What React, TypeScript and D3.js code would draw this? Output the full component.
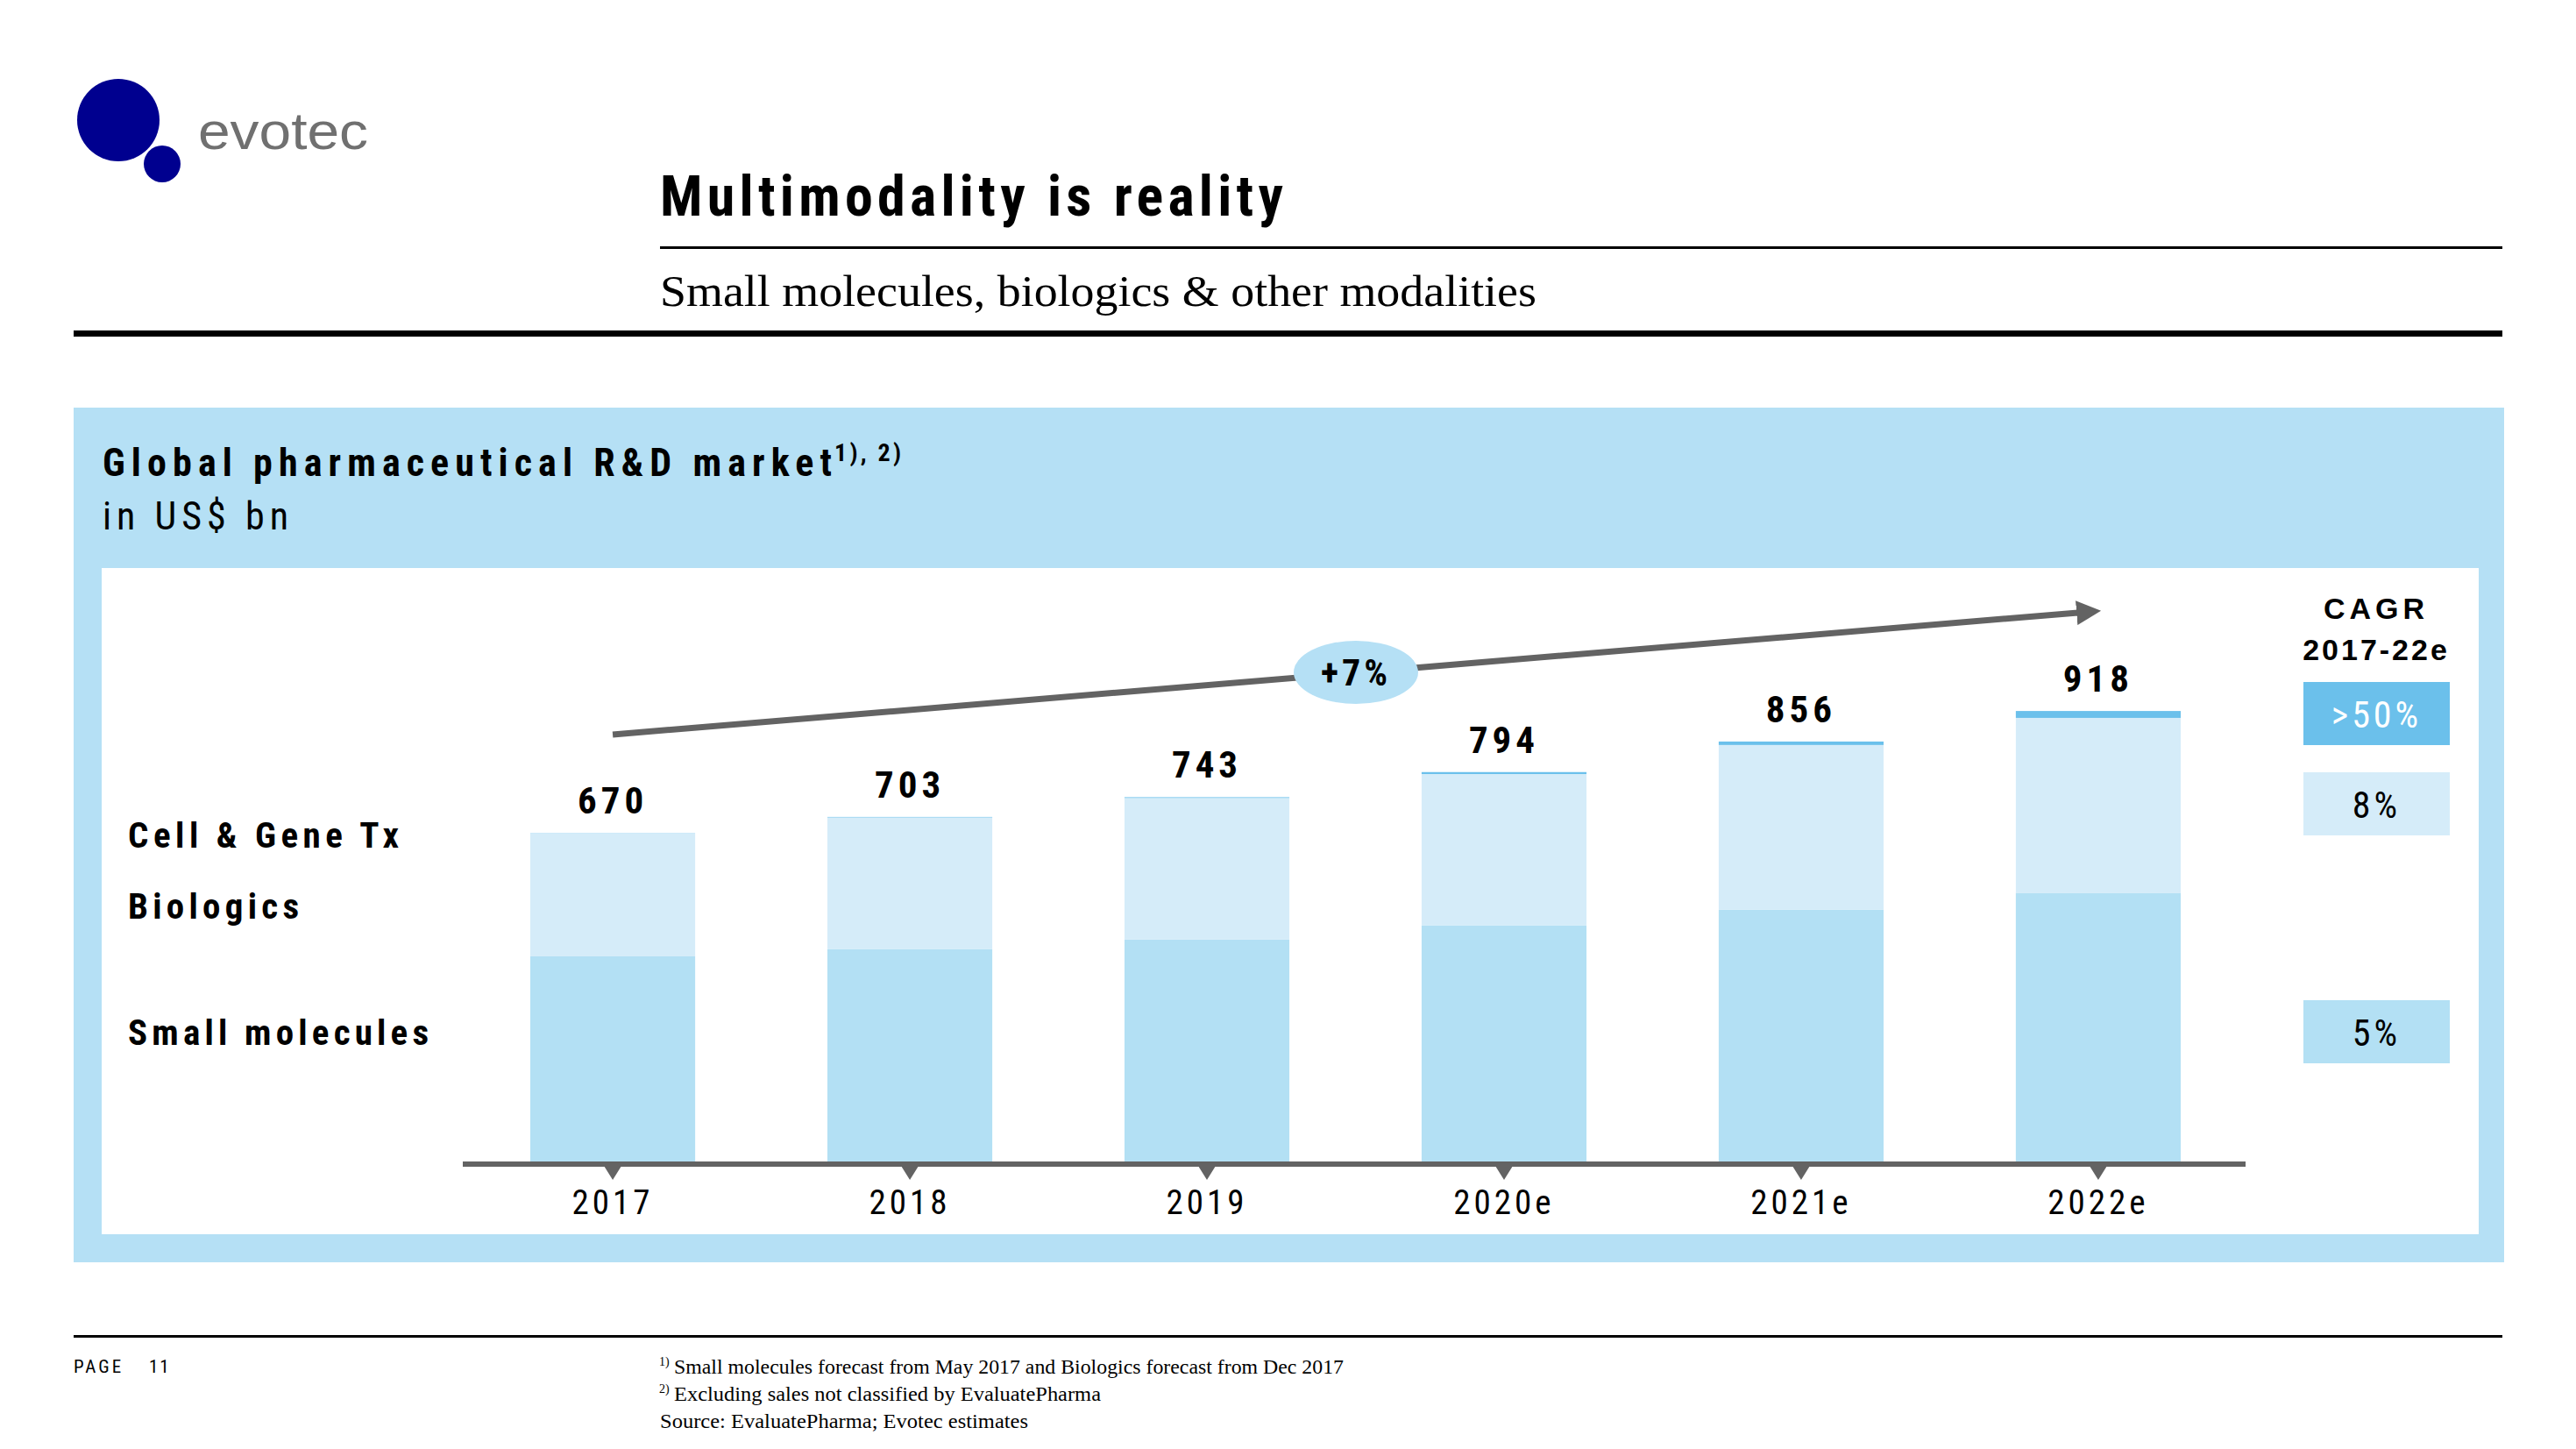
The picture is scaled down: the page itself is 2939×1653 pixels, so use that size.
import React from 'react';
import * as d3 from 'd3';

const years = ['2017', '2018', '2019', '2020e', '2021e', '2022e'];
const smallMolecules = [420, 435, 454, 483, 515, 549];
const biologics = [249.5, 267, 287.5, 307, 334, 355];
const cellGene = [0.5, 1, 1.5, 4, 7, 14];
const totals = [670, 703, 743, 794, 856, 918];
const segmentNames = ['Cell & Gene Tx', 'Biologics', 'Small molecules'];
const cagrValues = ['>50%', '8%', '5%'];
const overallCagr = '+7%';
const footnotes = [
  'Small molecules forecast from May 2017 and Biologics forecast from Dec 2017',
  'Excluding sales not classified by EvaluatePharma',
  'Source: EvaluatePharma; Evotec estimates',
];

const W = 2939;
const H = 1653;
const COND = "'Liberation Sans Narrow', 'Arial Narrow', 'Roboto Condensed', 'DejaVu Sans Condensed', 'Liberation Sans', sans-serif";
const SANS = "'Liberation Sans', Arial, sans-serif";
const SERIF = "'Liberation Serif', 'DejaVu Serif', serif";

const C_SM = '#b3e0f4';
const C_BIO = '#d5ecf9';
const C_CG = '#6bc0eb';
const C_PANEL = '#b5e0f5';
const C_GREY = '#636363';

export default function App() {
  const table = years.map((y, i) => ({
    year: y,
    sm: smallMolecules[i],
    bio: biologics[i],
    cg: cellGene[i],
  }));
  const keys = ['sm', 'bio', 'cg'];
  const colors: Record<string, string> = { sm: C_SM, bio: C_BIO, cg: C_CG };
  const stack = d3.stack<any>().keys(keys)(table);

  const x = d3.scaleBand<string>().domain(years).range([605, 2488]).paddingInner(0.445).paddingOuter(0);
  const y = d3.scaleLinear().domain([0, 1000]).range([1327, 765]);
  const bw = x.bandwidth();
  const cx = (yr: string) => (x(yr) as number) + bw / 2;

  const axisY = 1328;
  const arrowStart: [number, number] = [cx(years[0]), 838];
  const arrowEnd: [number, number] = [cx(years[years.length - 1]), 697];

  const boxX = 2628;
  const boxW = 167;
  const boxes = [
    { y: 778, fill: C_CG, color: '#ffffff', text: cagrValues[0] },
    { y: 881, fill: C_BIO, color: '#000000', text: cagrValues[1] },
    { y: 1141, fill: C_SM, color: '#000000', text: cagrValues[2] },
  ];
  const boxH = 72;

  const segLabelY = [967, 1048, 1192];
  const segLabelW = [309, 195, 343];
  const footW = [764, 487];

  return (
    <svg width={W} height={H} style={{ position: 'absolute', left: 0, top: 0, background: '#fff' }}>
      <defs>
        <marker id="arr" viewBox="0 0 10 10" refX="6" refY="5" markerWidth="4" markerHeight="4" orient="auto" markerUnits="strokeWidth">
          <path d="M0,0 L10,5 L0,10 z" fill={C_GREY} />
        </marker>
      </defs>
      {/* logo */}
      <circle cx={135} cy={137} r={47} fill="#00008f" />
      <circle cx={185} cy={187} r={21} fill="#00008f" />
      <text x={226} y={170} fontFamily={SANS} fontSize={60} fill="#707070" textLength={194} lengthAdjust="spacingAndGlyphs">evotec</text>

      {/* header */}
      <text x={753} y={246} fontFamily={COND} fontWeight="bold" fontSize={64} fill="#000" textLength={711} lengthAdjust="spacing">Multimodality is reality</text>
      <rect x={753} y={281} width={2102} height={3} fill="#000" />
      <text x={753} y={349} fontFamily={SERIF} fontSize={50} fill="#000" textLength={1000} lengthAdjust="spacingAndGlyphs">Small molecules, biologics &amp; other modalities</text>
      <rect x={84} y={377} width={2771} height={7} fill="#000" />

      {/* panel */}
      <rect x={84} y={465} width={2773} height={975} fill={C_PANEL} />
      <text x={117} y={543} fontFamily={COND} fontWeight="bold" fontSize={44} fill="#000" textLength={832} lengthAdjust="spacing">Global pharmaceutical R&amp;D market</text>
      <text x={952} y={526} fontFamily={COND} fontWeight="bold" fontSize={28} fill="#000" textLength={76} lengthAdjust="spacing">1), 2)</text>
      <text x={117} y={604} fontFamily={COND} fontSize={44} fill="#000" textLength={212} lengthAdjust="spacing">in US$ bn</text>
      <rect x={116} y={648} width={2712} height={760} fill="#fff" />

      {/* segment labels */}
      {segmentNames.map((n, i) => (
        <text key={n} x={146} y={segLabelY[i]} fontFamily={COND} fontWeight="bold" fontSize={41} fill="#000" textLength={segLabelW[i]} lengthAdjust="spacing">{n}</text>
      ))}

      {/* bars */}
      {stack.map((s) => (
        <g key={s.key} fill={colors[s.key]}>
          {s.map((d: any, i: number) => (
            <rect key={i} x={x(years[i])} y={y(d[1])} width={bw} height={y(d[0]) - y(d[1])} />
          ))}
        </g>
      ))}

      {/* totals */}
      {totals.map((t, i) => (
        <text key={i} x={cx(years[i])} y={y(t) - 22} textAnchor="middle" fontFamily={COND} fontWeight="bold" fontSize={43} fill="#000" letterSpacing={5}>{t}</text>
      ))}

      {/* axis */}
      <rect x={528} y={axisY - 3} width={2034} height={6} fill={C_GREY} />
      {years.map((yr) => (
        <path key={yr} d={`M${cx(yr) - 10},${axisY + 2} L${cx(yr) + 10},${axisY + 2} L${cx(yr)},${axisY + 18} Z`} fill={C_GREY} />
      ))}
      {years.map((yr) => (
        <text key={yr} x={cx(yr)} y={1385} textAnchor="middle" fontFamily={COND} fontSize={39} fill="#000" letterSpacing={4}>{yr}</text>
      ))}

      {/* CAGR arrow */}
      <line x1={arrowStart[0]} y1={arrowStart[1]} x2={arrowEnd[0] - 8} y2={arrowEnd[1] + 0.7} stroke={C_GREY} strokeWidth={7} markerEnd="url(#arr)" />
      <ellipse cx={1547} cy={767} rx={71} ry={36} fill={C_PANEL} />
      <text x={1547} y={782} textAnchor="middle" fontFamily={COND} fontWeight="bold" fontSize={42} fill="#000" letterSpacing={4}>{overallCagr}</text>

      {/* CAGR column */}
      <text x={2711} y={706} textAnchor="middle" fontFamily={SANS} fontWeight="bold" fontSize={34} fill="#000" letterSpacing={5}>CAGR</text>
      <text x={2711} y={753} textAnchor="middle" fontFamily={SANS} fontWeight="bold" fontSize={34} fill="#000" letterSpacing={3}>2017-22e</text>
      {boxes.map((b, i) => (
        <g key={i}>
          <rect x={boxX} y={b.y} width={boxW} height={boxH} fill={b.fill} />
          <text x={boxX + boxW / 2} y={b.y + 52} textAnchor="middle" fontFamily={COND} fontSize={42} fill={b.color} letterSpacing={4}>{b.text}</text>
        </g>
      ))}

      {/* footer */}
      <rect x={84} y={1523} width={2771} height={3} fill="#000" />
      <text x={84} y={1566} fontFamily={COND} fontSize={21} fill="#000" letterSpacing={3}>PAGE</text>
      <text x={170} y={1566} fontFamily={COND} fontSize={21} fill="#000" letterSpacing={2}>11</text>
      <text x={752} y={1558} fontFamily={SERIF} fontSize={14} fill="#000">1)</text>
      <text x={769} y={1567} fontFamily={SERIF} fontSize={23} fill="#000" textLength={footW[0]} lengthAdjust="spacingAndGlyphs">{footnotes[0]}</text>
      <text x={752} y={1589} fontFamily={SERIF} fontSize={14} fill="#000">2)</text>
      <text x={769} y={1598} fontFamily={SERIF} fontSize={23} fill="#000" textLength={footW[1]} lengthAdjust="spacingAndGlyphs">{footnotes[1]}</text>
      <text x={753} y={1629} fontFamily={SERIF} fontSize={23} fill="#000" textLength={420} lengthAdjust="spacingAndGlyphs">{footnotes[2]}</text>
    </svg>
  );
}
